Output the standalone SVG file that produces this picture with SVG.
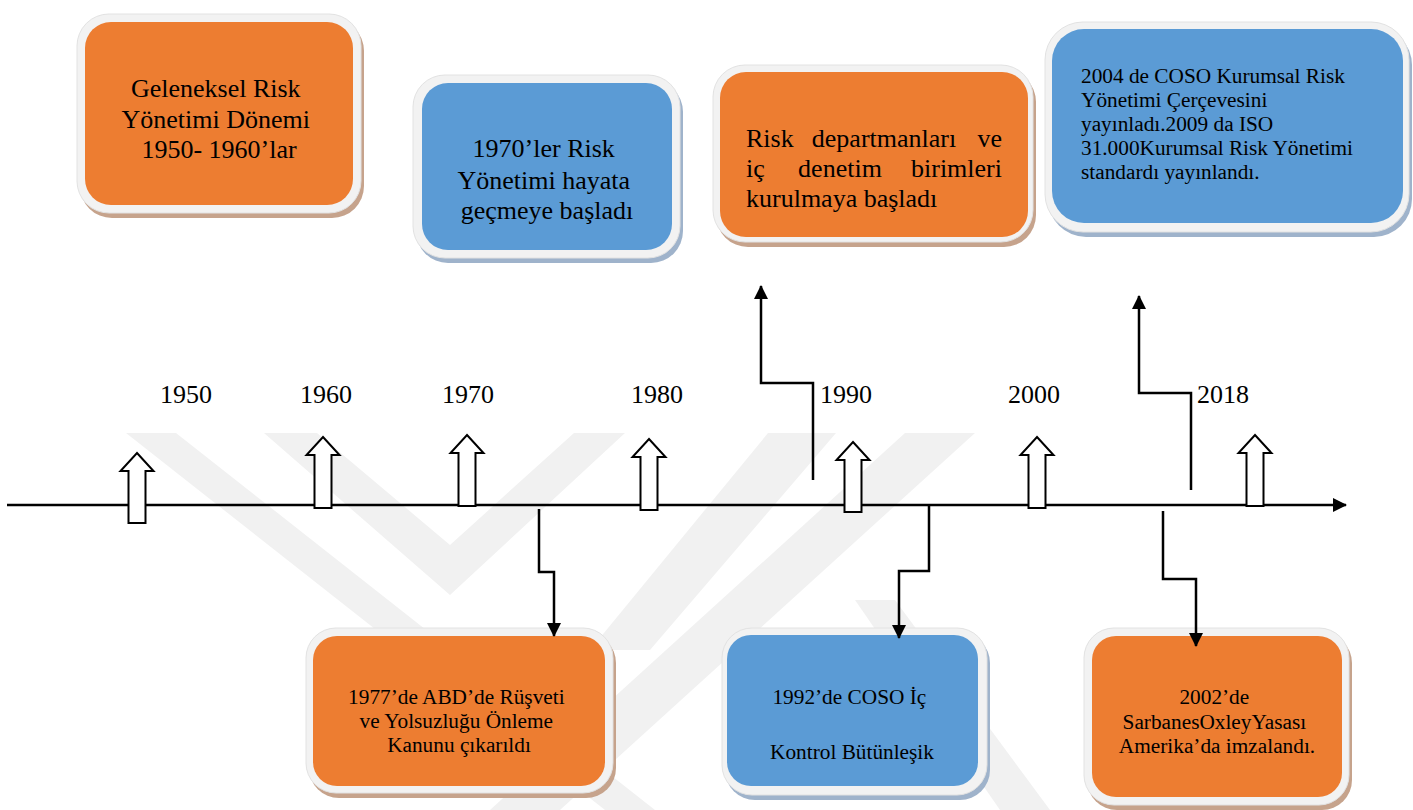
<svg xmlns="http://www.w3.org/2000/svg" width="1413" height="810" viewBox="0 0 1413 810">
  <style>
    .wm { fill: #f1f1f1; }
    .yr { font-family: 'Liberation Serif', 'Times New Roman', serif; font-size: 26px; fill: #000; }
    .big { font-family: 'Liberation Serif', 'Times New Roman', serif; font-size: 26px; fill: #000; }
    .sm { font-family: 'Liberation Serif', 'Times New Roman', serif; font-size: 21.3px; fill: #000; }
    .frame { fill: #f2f2f2; stroke: #e2e2e2; stroke-width: 1; }
    .sh-o { fill: #c6a38c; }
    .sh-b { fill: #9fb3cb; }
    .orange { fill: #ed7d31; }
    .blue { fill: #5b9bd5; }
    .tick { fill: #fff; stroke: #000; stroke-width: 2; stroke-linejoin: miter; }
    .conn { fill: none; stroke: #000; stroke-width: 2.5; }
  </style>
  <defs>
    <marker id="ah" markerWidth="14" markerHeight="14" refX="13" refY="7" orient="auto" markerUnits="userSpaceOnUse">
      <path d="M0,0 L14,7 L0,14 z" fill="#000"/>
    </marker>
  </defs>

  <rect width="1413" height="810" fill="#fff"/>

  <!-- faint background emblem -->
  <g id="watermark">
    <polygon class="wm" points="126,433 176,433 655,810 605,810"/>
    <polygon class="wm" points="264,433 317,433 450,545 574,433 625,433 450,595"/>
    <polygon class="wm" points="768,433 836,433 650,650 590,650"/>
    <polygon class="wm" points="905,433 975,433 560,810 490,810"/>
    <polygon class="wm" points="855,600 895,600 1050,810 1000,810"/>
  </g>

  <!-- timeline axis -->
  <g id="axis">
    <line class="conn" x1="7" y1="505" x2="1346" y2="505" marker-end="url(#ah)"/>
  </g>

  <!-- year ticks -->
  <g id="ticks">
    <polygon class="tick" points="137,453 153.5,471 145.5,471 145.5,523 128.5,523 128.5,471 120.5,471"/>
    <polygon class="tick" points="323,437 339.5,455 331.5,455 331.5,508 314.5,508 314.5,455 306.5,455"/>
    <polygon class="tick" points="467,435 483.5,453 475.5,453 475.5,506 458.5,506 458.5,453 450.5,453"/>
    <polygon class="tick" points="649,439 665.5,457 657.5,457 657.5,510 640.5,510 640.5,457 632.5,457"/>
    <polygon class="tick" points="853,442 869.5,460 861.5,460 861.5,512 844.5,512 844.5,460 836.5,460"/>
    <polygon class="tick" points="1037,437 1053.5,455 1045.5,455 1045.5,508 1028.5,508 1028.5,455 1020.5,455"/>
    <polygon class="tick" points="1255,435 1271.5,453 1263.5,453 1263.5,506 1246.5,506 1246.5,453 1238.5,453"/>
  </g>

  <!-- year labels -->
  <g id="years">
    <text class="yr" x="160" y="403">1950</text>
    <text class="yr" x="300" y="403">1960</text>
    <text class="yr" x="442" y="403">1970</text>
    <text class="yr" x="631" y="403">1980</text>
    <text class="yr" x="820" y="403">1990</text>
    <text class="yr" x="1008" y="403">2000</text>
    <text class="yr" x="1197" y="403">2018</text>
  </g>

  <!-- top row -->
  <g id="box-geleneksel">
    <rect class="sh-o" x="80" y="19" width="284" height="199" rx="32"/>
    <rect class="frame" x="77" y="14" width="284" height="199" rx="32"/>
    <rect class="orange" x="85" y="22" width="268" height="183" rx="26"/>
    <text class="big" text-anchor="middle">
      <tspan x="219" y="97">Geleneksel Risk</tspan>
      <tspan x="219" y="128">Yönetimi Dönemi</tspan>
      <tspan x="219" y="158">1950- 1960’lar</tspan>
    </text>
  </g>

  <g id="box-1970">
    <rect class="sh-b" x="416" y="80" width="267" height="183" rx="32"/>
    <rect class="frame" x="413" y="75" width="267" height="183" rx="32"/>
    <rect class="blue" x="422" y="83" width="250" height="167" rx="26"/>
    <text class="big" text-anchor="middle">
      <tspan x="547" y="157">1970’ler Risk</tspan>
      <tspan x="547" y="189">Yönetimi hayata</tspan>
      <tspan x="547" y="219">geçmeye başladı</tspan>
    </text>
  </g>

  <g id="box-departman">
    <rect class="sh-o" x="716" y="70" width="320" height="177" rx="32"/>
    <rect class="frame" x="713" y="65" width="320" height="177" rx="32"/>
    <rect class="orange" x="720" y="72" width="308" height="165" rx="26"/>
    <text class="big" x="746" y="147">Risk</text>
    <text class="big" x="884" y="147" text-anchor="middle">departmanları</text>
    <text class="big" x="1002" y="147" text-anchor="end">ve</text>
    <text class="big" x="746" y="177">iç</text>
    <text class="big" x="840" y="177" text-anchor="middle">denetim</text>
    <text class="big" x="1002" y="177" text-anchor="end">birimleri</text>
    <text class="big" x="746" y="207">kurulmaya başladı</text>
  </g>

  <g id="box-coso2004">
    <rect class="sh-b" x="1048" y="27" width="364" height="210" rx="38"/>
    <rect class="frame" x="1045" y="22" width="364" height="210" rx="38"/>
    <rect class="blue" x="1052" y="29" width="351" height="194" rx="32"/>
    <text class="sm">
      <tspan x="1081" y="83">2004 de COSO Kurumsal Risk</tspan>
      <tspan x="1081" y="107">Yönetimi Çerçevesini</tspan>
      <tspan x="1081" y="131">yayınladı.2009 da ISO</tspan>
      <tspan x="1081" y="155">31.000Kurumsal Risk Yönetimi</tspan>
      <tspan x="1081" y="179">standardı yayınlandı.</tspan>
    </text>
  </g>

  <!-- bottom row -->
  <g id="box-1977">
    <rect class="sh-o" x="309" y="633" width="307" height="165" rx="30"/>
    <rect class="frame" x="306" y="628" width="307" height="165" rx="30"/>
    <rect class="orange" x="313" y="636" width="292" height="150" rx="24"/>
    <text class="sm" text-anchor="middle">
      <tspan x="459" y="704">1977’de ABD’de Rüşveti</tspan>
      <tspan x="459" y="728">ve Yolsuzluğu Önleme</tspan>
      <tspan x="459" y="752">Kanunu çıkarıldı</tspan>
    </text>
  </g>

  <g id="box-coso1992">
    <rect class="sh-b" x="725" y="633" width="265" height="167" rx="30"/>
    <rect class="frame" x="722" y="628" width="265" height="167" rx="30"/>
    <rect class="blue" x="727" y="635" width="251" height="151" rx="24"/>
    <text class="sm" text-anchor="middle">
      <tspan x="852" y="704">1992’de COSO İç</tspan>
      <tspan x="852" y="759">Kontrol Bütünleşik</tspan>
    </text>
  </g>

  <g id="box-sox2002">
    <rect class="sh-o" x="1087" y="633" width="265" height="177" rx="30"/>
    <rect class="frame" x="1084" y="628" width="265" height="177" rx="30"/>
    <rect class="orange" x="1092" y="636" width="250" height="161" rx="24"/>
    <text class="sm" text-anchor="middle">
      <tspan x="1217" y="704">2002’de</tspan>
      <tspan x="1217" y="729">SarbanesOxleyYasası</tspan>
      <tspan x="1217" y="753">Amerika’da imzalandı.</tspan>
    </text>
  </g>

  <!-- elbow connectors from the axis to the event boxes, drawn over the box frames -->
  <g id="connectors">
    <polyline class="conn" points="813,480 813,383 761,383 761,286" marker-end="url(#ah)"/>
    <polyline class="conn" points="1191,490 1191,393 1139,393 1139,296" marker-end="url(#ah)"/>
    <polyline class="conn" points="539,509 539,572 554,572 554,636" marker-end="url(#ah)"/>
    <polyline class="conn" points="929,505 929,571 899,571 899,638" marker-end="url(#ah)"/>
    <polyline class="conn" points="1163,511 1163,579 1196,579 1196,646" marker-end="url(#ah)"/>
  </g>
</svg>
